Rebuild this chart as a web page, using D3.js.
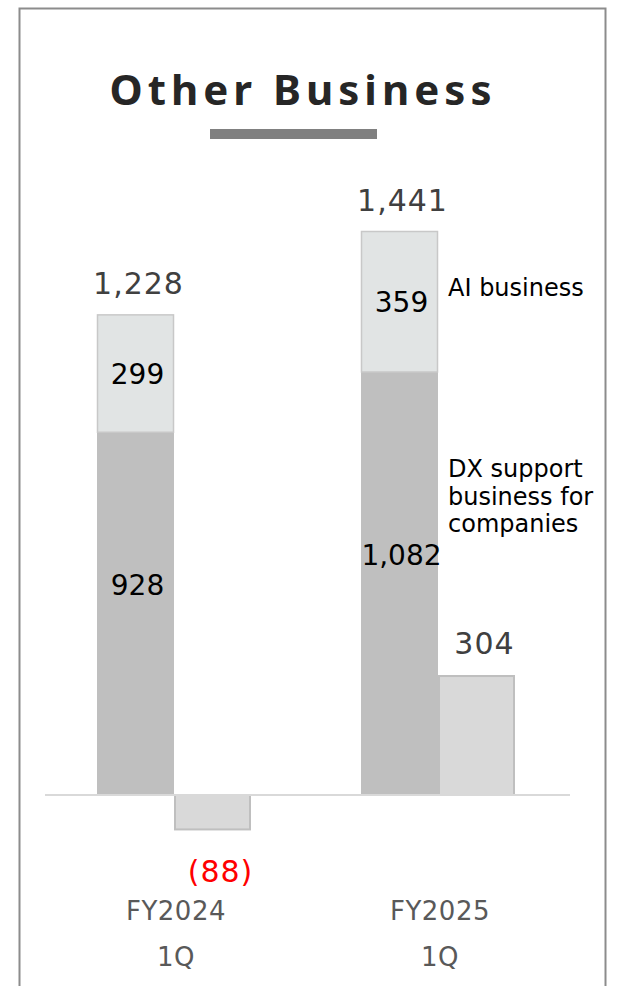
<!DOCTYPE html>
<html>
<head>
<meta charset="utf-8">
<script src="https://cdn.jsdelivr.net/npm/d3@7"></script>
<style>
  body { margin: 0; background: #fff; }
  text { font-family: "DejaVu Sans", "Noto Sans", sans-serif; }
</style>
</head>
<body>
<svg width="618" height="986"></svg>
<script>
const svg = d3.select("svg");

// data
const categories = ["FY2024", "FY2025"];
const periodLabels = ["1Q", "1Q"];
const dxSupport = [928, 1082];
const aiBusiness = [299, 359];
const totals = [1228, 1441];
const profit = [-88, 304];
const seriesNames = ["AI business", "DX support business for companies"];

// frame
svg.append("rect")
  .attr("x", 19.5).attr("y", 8.5)
  .attr("width", 586).attr("height", 1000)
  .attr("fill", "none")
  .attr("stroke", "#8c8c8c")
  .attr("stroke-width", 2);

// title
svg.append("text")
  .text("Other Business")
  .attr("x", 303).attr("y", 105)
  .attr("text-anchor", "middle")
  .style("font-family", "'Noto Sans', sans-serif")
  .attr("font-size", 42)
  .attr("font-weight", "bold")
  .attr("letter-spacing", 5)
  .attr("fill", "#262626");

svg.append("rect")
  .attr("x", 210).attr("y", 129)
  .attr("width", 167).attr("height", 10)
  .attr("fill", "#808080");

// scales
const x0 = d3.scaleBand().domain(categories).range([42, 570]);
const x1 = d3.scaleBand().domain(["sales", "profit"]).range([0, 154]);
const y = d3.scaleLinear().domain([0, 1441]).range([795, 231]);

const groupX = c => x0(c) + x0.bandwidth() / 2 - 77;

const data = categories.map((c, i) => ({
  cat: c,
  dx: dxSupport[i],
  ai: aiBusiness[i],
  total: totals[i],
  profit: profit[i],
  period: periodLabels[i]
}));

const g = svg.append("g");

// DX support segment
g.selectAll(".dx")
  .data(data)
  .enter().append("rect")
  .attr("class", "dx")
  .attr("x", d => groupX(d.cat) + x1("sales"))
  .attr("y", d => y(d.dx))
  .attr("width", x1.bandwidth())
  .attr("height", d => y(0) - y(d.dx))
  .attr("fill", "#bfbfbf");

// AI segment
g.selectAll(".ai")
  .data(data)
  .enter().append("rect")
  .attr("class", "ai")
  .attr("x", d => groupX(d.cat) + x1("sales") + 0.5)
  .attr("y", d => y(d.total) + 0.5)
  .attr("width", x1.bandwidth() - 1)
  .attr("height", d => y(d.dx) - y(d.total))
  .attr("fill", "#e1e4e4")
  .attr("stroke", "#c8c8c8")
  .attr("stroke-width", 1.5);

// profit bars
g.selectAll(".profit")
  .data(data)
  .enter().append("rect")
  .attr("class", "profit")
  .attr("x", d => groupX(d.cat) + x1("profit") + 1)
  .attr("y", d => y(Math.max(0, d.profit)))
  .attr("width", x1.bandwidth() - 2)
  .attr("height", d => Math.abs(y(d.profit) - y(0)))
  .attr("fill", "#d9d9d9")
  .attr("stroke", "#bfbfbf")
  .attr("stroke-width", 2);

// baseline
svg.append("line")
  .attr("x1", 45).attr("x2", 570)
  .attr("y1", y(0)).attr("y2", y(0))
  .attr("stroke", "#d9d9d9")
  .attr("stroke-width", 2);

const fmt = d3.format(",");

// totals
g.selectAll(".total")
  .data(data)
  .enter().append("text")
  .attr("x", d => groupX(d.cat) + x1("sales") + x1.bandwidth() / 2 + 3)
  .attr("y", d => y(d.total) - 20)
  .attr("text-anchor", "middle")
  .attr("font-size", 30)
  .attr("letter-spacing", 1)
  .attr("fill", "#404040")
  .text(d => fmt(d.total));

// segment labels
g.selectAll(".aiLabel")
  .data(data)
  .enter().append("text")
  .attr("x", d => groupX(d.cat) + x1("sales") + x1.bandwidth() / 2 + 2)
  .attr("y", d => (y(d.dx) + y(d.total)) / 2 + 11)
  .attr("text-anchor", "middle")
  .attr("font-size", 28)
  .attr("fill", "#000")
  .text(d => fmt(d.ai));

g.selectAll(".dxLabel")
  .data(data)
  .enter().append("text")
  .attr("x", d => groupX(d.cat) + x1("sales") + x1.bandwidth() / 2 + 2)
  .attr("y", d => y(d.dx / 2) - 18)
  .attr("text-anchor", "middle")
  .attr("font-size", 28)
  .attr("fill", "#000")
  .text(d => fmt(d.dx));

// profit labels
g.selectAll(".profitLabel")
  .data(data)
  .enter().append("text")
  .attr("x", d => groupX(d.cat) + x1("profit") + x1.bandwidth() / 2 + 8)
  .attr("y", d => d.profit < 0 ? y(d.profit) + 53 : y(d.profit) - 22)
  .attr("text-anchor", "middle")
  .attr("font-size", 30)
  .attr("letter-spacing", 1)
  .attr("fill", d => d.profit < 0 ? "#ff0000" : "#404040")
  .text(d => d.profit < 0 ? "(" + fmt(-d.profit) + ")" : fmt(d.profit));

// category labels
g.selectAll(".cat")
  .data(data)
  .enter().append("text")
  .attr("x", d => x0(d.cat) + x0.bandwidth() / 2 + 2)
  .attr("y", 920)
  .attr("text-anchor", "middle")
  .attr("font-size", 26)
  .attr("letter-spacing", 0.5)
  .attr("fill", "#595959")
  .text(d => d.cat);

g.selectAll(".period")
  .data(data)
  .enter().append("text")
  .attr("x", d => x0(d.cat) + x0.bandwidth() / 2 + 2)
  .attr("y", 966)
  .attr("text-anchor", "middle")
  .attr("font-size", 26)
  .attr("letter-spacing", 0.5)
  .attr("fill", "#595959")
  .text(d => d.period);

// series labels next to the FY2025 bar
const last = data[data.length - 1];
const legendX = groupX(last.cat) + x1("sales") + x1.bandwidth() + 10;

svg.append("text")
  .attr("x", legendX)
  .attr("y", 296)
  .attr("font-size", 24)
  .attr("fill", "#000")
  .text(seriesNames[0]);

const dxLines = ["DX support", "business for", "companies"];
svg.append("text")
  .attr("x", legendX)
  .attr("y", 477)
  .attr("font-size", 24)
  .attr("fill", "#000")
  .selectAll("tspan")
  .data(dxLines)
  .enter().append("tspan")
  .attr("x", legendX)
  .attr("dy", (d, i) => i === 0 ? 0 : 27.5)
  .text(d => d);
</script>
</body>
</html>
